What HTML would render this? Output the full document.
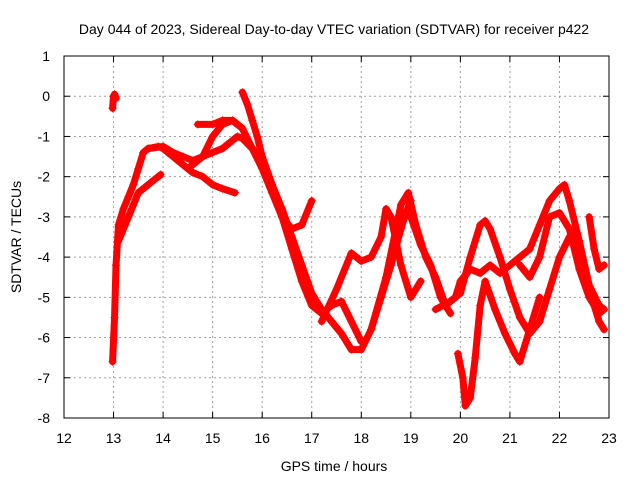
<!DOCTYPE html>
<html><head><meta charset="utf-8"><style>
body{margin:0;background:#fff}
svg{display:block;font-family:"Liberation Sans",sans-serif}
</style></head><body>
<svg id="chart" width="640" height="480" xmlns="http://www.w3.org/2000/svg">
<rect width="640" height="480" fill="#fff"/>
<text x="334" y="34" font-size="14" text-anchor="middle">Day 044 of 2023, Sidereal Day-to-day VTEC variation (SDTVAR) for receiver p422</text>
<text x="334" y="471" font-size="14" text-anchor="middle">GPS time / hours</text>
<text transform="translate(21,237) rotate(-90)" font-size="14" text-anchor="middle">SDTVAR / TECUs</text>
<g id="grid"></g>
<g id="ticks"></g>
<g id="series"></g>
<rect x="64" y="56" width="545" height="362" fill="none" stroke="#000" stroke-width="1"/>
</svg>
<script>
const xTicks=[12,13,14,15,16,17,18,19,20,21,22,23];
const yTicks=[1,0,-1,-2,-3,-4,-5,-6,-7,-8];
const t1=[[12.98,-0.3],[13.0,0],[13.02,0.05],[13.05,-0.05]];
const t2=[[12.98,-6.6],[13.02,-5.5],[13.05,-4.2],[13.1,-3.2],[13.2,-2.8],[13.3,-2.5],[13.4,-2.2],[13.5,-1.8],[13.6,-1.4],[13.7,-1.3],[13.9,-1.25],[14.0,-1.3],[14.2,-1.5],[14.4,-1.7],[14.6,-1.9],[14.8,-2.0],[15.0,-2.2],[15.2,-2.3],[15.45,-2.4]];
const t3=[[13.1,-3.6],[13.3,-3.0],[13.5,-2.4],[13.7,-2.2],[13.95,-1.95]];
const t4=[[13.7,-1.3],[14.0,-1.25],[14.2,-1.4],[14.4,-1.5],[14.6,-1.6],[14.8,-1.5],[15.0,-1.4],[15.2,-1.3],[15.4,-1.1],[15.5,-1.0],[15.6,-1.05],[15.8,-1.3],[16.0,-1.6],[16.2,-2.2],[16.4,-2.8],[16.6,-3.5],[16.8,-4.2],[17.0,-4.9],[17.2,-5.3],[17.4,-5.6],[17.6,-5.9],[17.8,-6.3],[18.0,-6.3],[18.2,-5.8],[18.4,-5.0],[18.6,-4.2],[18.8,-3.3],[18.9,-2.9],[19.0,-2.6]];
const t5=[[14.7,-0.7],[15.0,-0.7],[15.2,-0.6],[15.4,-0.6],[15.5,-0.7]];
const t6=[[14.5,-1.8],[14.8,-1.5],[15.0,-1.0],[15.2,-0.7],[15.4,-0.6],[15.6,-0.8],[15.8,-1.3],[16.0,-1.8],[16.2,-2.4],[16.4,-3.0],[16.6,-3.3],[16.8,-3.2],[17.0,-2.6]];
const t7=[[15.6,0.1],[15.7,-0.2],[15.8,-0.6],[15.9,-1.0],[16.0,-1.5],[16.2,-2.2],[16.4,-3.0],[16.6,-3.8],[16.8,-4.6],[17.0,-5.2],[17.2,-5.4],[17.4,-5.2],[17.6,-5.1],[17.8,-5.6],[18.0,-6.1]];
const t8=[[17.2,-5.6],[17.5,-4.8],[17.8,-3.9],[18.0,-4.1],[18.2,-4.0],[18.4,-3.5],[18.5,-2.8],[18.6,-3.0],[18.8,-4.2],[19.0,-5.0],[19.2,-4.6]];
const t9=[[18.2,-5.8],[18.5,-4.5],[18.8,-2.7],[18.95,-2.4],[19.1,-3.2],[19.3,-4.0],[19.5,-4.5],[19.7,-5.2],[19.9,-5.0],[20.0,-4.6],[20.2,-4.3],[20.4,-4.4],[20.6,-4.2],[20.8,-4.4],[21.0,-4.2],[21.2,-4.0],[21.4,-3.8],[21.6,-3.2],[21.8,-2.6],[22.0,-2.3],[22.1,-2.2],[22.2,-2.6],[22.4,-3.6],[22.6,-4.7],[22.8,-5.2],[22.9,-5.3]];
const t10=[[19.5,-5.3],[19.8,-5.1],[20.0,-4.9],[20.2,-4.0],[20.4,-3.2],[20.5,-3.1],[20.6,-3.3],[20.8,-4.0],[21.0,-4.8],[21.2,-5.5],[21.4,-5.9],[21.6,-5.6],[21.8,-4.8],[22.0,-4.0],[22.2,-3.5],[22.4,-3.9],[22.6,-4.8],[22.8,-5.6],[22.9,-5.8]];
const t11=[[19.0,-3.0],[19.2,-3.7],[19.4,-4.2],[19.6,-5.0],[19.8,-5.4]];
const t12=[[19.95,-6.4],[20.05,-7.0],[20.1,-7.7],[20.2,-7.5],[20.3,-6.5],[20.4,-5.2],[20.5,-4.6],[20.7,-5.3],[20.9,-5.9],[21.1,-6.4],[21.2,-6.6],[21.4,-5.8],[21.6,-5.0]];
const t13=[[21.2,-4.2],[21.4,-4.5],[21.6,-4.0],[21.8,-3.0],[22.0,-2.9],[22.2,-3.3],[22.4,-4.3],[22.6,-5.0],[22.8,-5.4],[22.9,-5.3]];
const t14=[[22.6,-3.0],[22.7,-3.8],[22.8,-4.3],[22.9,-4.2]];
const traces=[t1,t2,t3,t4,t5,t6,t7,t8,t9,t10,t11,t12,t13,t14];
const NS="http://www.w3.org/2000/svg";
const X=h=>64+(h-12)*(545/11);
const Y=v=>56+(1-v)*(362/9);
function mk(tag,attrs,parent){const e=document.createElementNS(NS,tag);for(const k in attrs)e.setAttribute(k,attrs[k]);parent.appendChild(e);return e;}
const grid=document.getElementById('grid'),ticks=document.getElementById('ticks'),ser=document.getElementById('series');
xTicks.forEach(t=>{
 if(t>12&&t<23){const l=mk('line',{x1:X(t),x2:X(t),y1:56,y2:418,stroke:'#a0a0a0','stroke-dasharray':'2,3'},grid);
 
 }
 const tk=mk('text',{x:X(t),y:443,'font-size':14,'text-anchor':'middle'},ticks);tk.textContent=t;
 
 
 mk('line',{x1:X(t),x2:X(t),y1:418,y2:412,stroke:'#000'},ticks);
 mk('line',{x1:X(t),x2:X(t),y1:56,y2:62,stroke:'#000'},ticks);
});
yTicks.forEach(t=>{
 if(t<1&&t>-8){const l=mk('line',{x1:64,x2:609,y1:Y(t),y2:Y(t),stroke:'#a0a0a0','stroke-dasharray':'2,3'},grid);
 
 }
 const tk=mk('text',{x:50,y:Y(t)+5,'font-size':14,'text-anchor':'end'},ticks);tk.textContent=t;
 
 
 mk('line',{x1:64,x2:70,y1:Y(t),y2:Y(t),stroke:'#000'},ticks);
 mk('line',{x1:609,x2:603,y1:Y(t),y2:Y(t),stroke:'#000'},ticks);
});
traces.forEach((tr,i)=>{
 const g=mk('g',{},ser);
 
 
 mk('polyline',{points:tr.map(p=>X(p[0])+','+Y(p[1])).join(' '),fill:'none',stroke:'#ff0000','stroke-width':7,'stroke-linejoin':'round','stroke-linecap':'round'},g);
 tr.forEach(p=>{
  const x=X(p[0]),y=Y(p[1]);
  mk('path',{d:`M${x-4},${y}H${x+4}M${x},${y-4}V${y+4}`,stroke:'#ff0000','stroke-width':1},g);
 });
});
</script>
</body></html>
